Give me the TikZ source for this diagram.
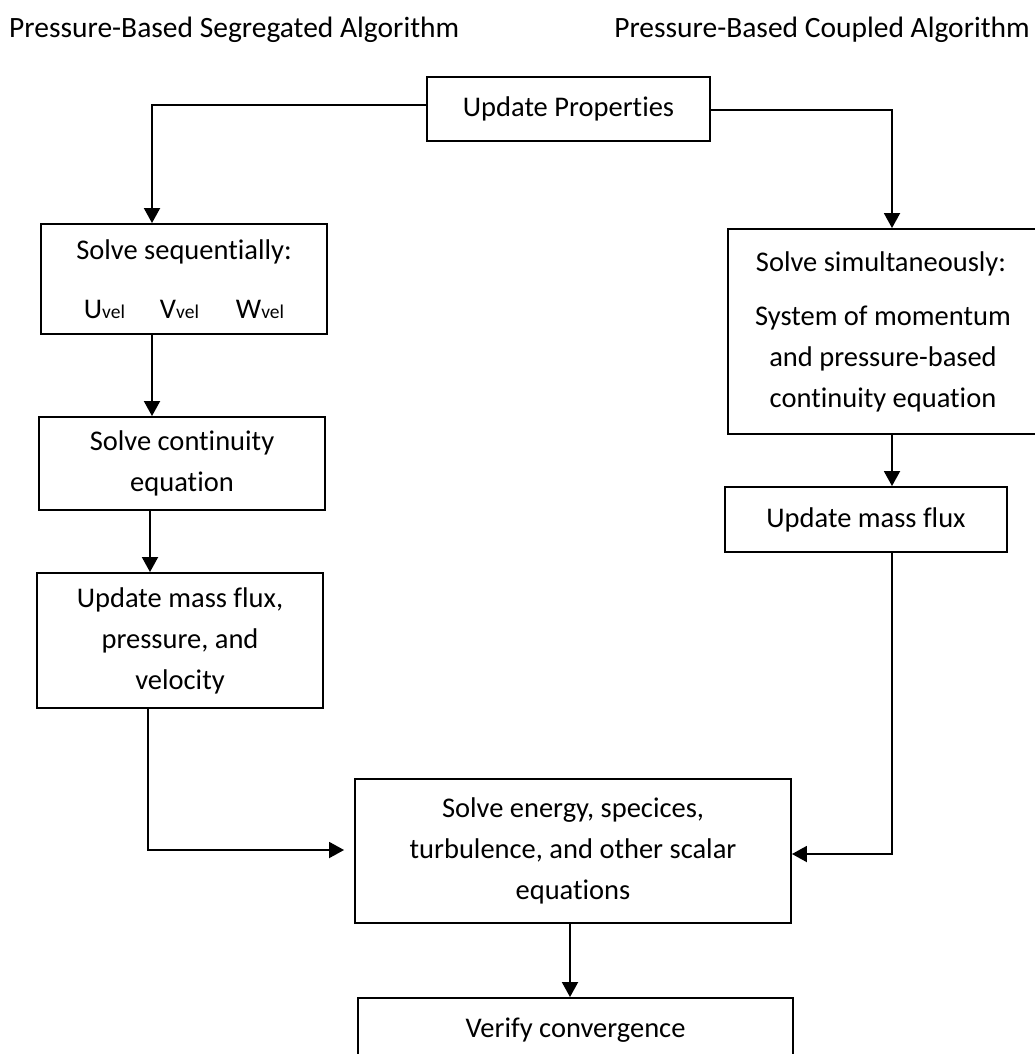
\documentclass[tikz,border=0pt]{standalone}
\usepackage{fontspec}
\setmainfont{Carlito}[Ligatures=NoCommon]
\usetikzlibrary{arrows.meta}
\tikzset{
  box/.style={draw, line width=1.9pt, inner sep=0pt, align=center,
    font=\fontsize{28.5}{41}\selectfont},
  flow/.style={line width=1.9pt, -{Triangle[length=15pt,width=16pt]}},
  title/.style={font=\fontsize{29.5}{34}\selectfont, inner sep=0pt}
}
\newcommand{\vsub}[1]{#1{\fontsize{19.5}{19.5}\selectfont vel}}
\begin{document}
\begin{tikzpicture}[x=1pt,y=-1pt]
\clip (0,0) rectangle (1035,1054);
\fill[white] (0,0) rectangle (1035,1054);
% titles
\node[title, anchor=west] (t1) at (9,30) {Pressure-Based Segregated Algorithm};
\node[title, anchor=east] (t2) at (1030,30) {Pressure-Based Coupled Algorithm};
% boxes
\node[box, minimum width=283pt, minimum height=64pt] (up) at (568.5,109) {Update Properties};
\node[box, minimum width=286pt, minimum height=110pt] (ss) at (184,279)
  {Solve sequentially:\\[18pt]\vsub{U}\hspace{35pt}\vsub{V}\hspace{37pt}\vsub{W}};
\node[box, minimum width=286pt, minimum height=93pt] (sc) at (182,463.5)
  {Solve continuity\\equation};
\node[box, minimum width=286pt, minimum height=135pt] (um) at (180,640.5)
  {Update mass flux,\\pressure, and\\velocity};
\node[box, minimum width=310pt, minimum height=205pt] (sim) at (883,331.5)
  {\hspace*{-4pt}Solve simultaneously:\\[13pt]System of momentum\\and pressure-based\\continuity equation};
\node[box, minimum width=282pt, minimum height=65pt] (umr) at (866,519.5) {Update mass flux};
\node[box, minimum width=436pt, minimum height=144pt] (en) at (573,851)
  {Solve energy, specices,\\turbulence, and other scalar\\equations};
\node[box, minimum width=435pt, minimum height=64pt] (ver) at (575.5,1030) {Verify convergence};
% connectors
\coordinate (cl) at (152,105);
\coordinate (cr) at (892,110);
\coordinate (cb) at (148,850);
\coordinate (cbr) at (892,854);
\draw[flow] ([yshift=4pt]up.west) -- (cl) -- (cl |- ss.north);
\draw[flow] (up.east |- cr) -- (cr) -- (cr |- sim.north);
\draw[flow] (152,0 |- ss.south) -- (152,0 |- sc.north);
\draw[flow] (150,0 |- sc.south) -- (150,0 |- um.north);
\draw[flow] (cb |- um.south) -- (cb) -- ([xshift=-10pt]en.west |- cb);
\draw[flow] (892,0 |- sim.south) -- (892,0 |- umr.north);
\draw[flow] (cbr |- umr.south) -- (cbr) -- (en.east |- cbr);
\draw[flow] (570,0 |- en.south) -- (570,0 |- ver.north);
\end{tikzpicture}
\end{document}
